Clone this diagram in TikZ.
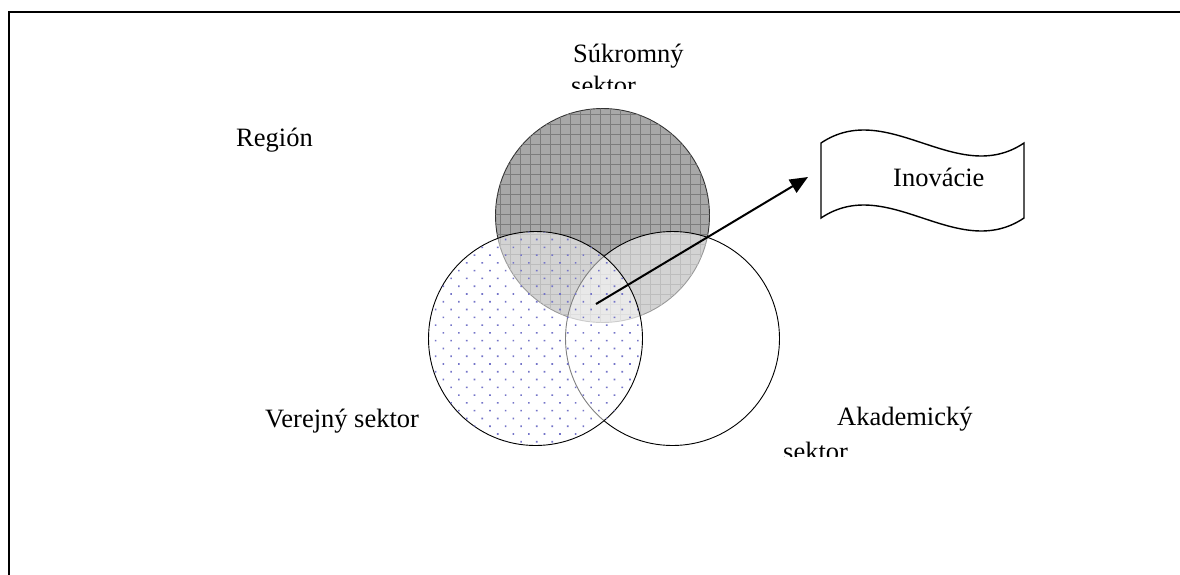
\documentclass[tikz,border=0pt]{standalone}
\usepackage{fontspec}
\setmainfont{Liberation Serif}
\usetikzlibrary{patterns.meta,arrows.meta}

\definecolor{privfill}{HTML}{A8A8A8}
\definecolor{privgrid}{HTML}{7C7C7C}
\definecolor{dotblue}{HTML}{7474C8}

\tikzset{
  sector/.style={circle, inner sep=0pt, minimum size=214pt, line width=0.9pt},
  label/.style={inner sep=0pt, anchor=base west, font=\fontsize{26.5}{32}\selectfont},
  frameline/.style={line width=2pt},
  flow/.style={line width=2pt, -{Triangle[length=18pt, width=15pt]}},
  banner/.style={line width=1.4pt, fill=white},
}

\begin{document}
\begin{tikzpicture}[x=1pt, y=-1pt]
  \useasboundingbox (0,0) rectangle (1180,574);

  % outer frame (top and left edges)
  \draw[frameline] (9,575) -- (9,12) -- (1182,12);

  % private sector: shaded circle with a grid
  \node[sector, draw=black!80, fill=privfill,
        postaction={pattern={Hatch[angle=0, distance=10pt, line width=0.7pt]}, pattern color=privgrid}]
        (priv) at (602.5,215.5) {};

  % academic sector: translucent white disc
  \node[sector, draw=black, fill=white, fill opacity=0.5] (acad) at (672.5,338.5) {};

  % public sector: translucent white disc with blue dots
  \node[sector, draw=black, fill=white, fill opacity=0.5,
        postaction={pattern={Dots[angle=45, distance=11pt, radius=1.15pt]}, pattern color=dotblue, fill opacity=1}]
        (pub) at (535.5,338.5) {};

  % wavy banner
  \coordinate (bTL) at (821,143);
  \coordinate (bTR) at (1024,143);
  \coordinate (bBR) at (1024,218);
  \coordinate (bBL) at (821,218);
  \draw[banner] (bTL) .. controls (888,98) and (957,188) .. (bTR)
        -- (bBR) .. controls (957,263) and (888,173) .. (bBL) -- cycle;
  \node[label] (inov) at (893,186) {Inovácie};

  % arrow from the common overlap to the banner
  \coordinate (core) at (596,304);
  \coordinate (tip) at (808,177);
  \draw[flow] (core) -- (tip);

  % labels
  \node[label] (region) at (236,146) {Región};
  \node[label] (privA) at (573,62) {Súkromný};
  \begin{scope}
    \clip (540,66) rectangle (700,88);
    \node[label] (privB) at (571,94) {sektor};
  \end{scope}
  \node[label] (publab) at (265,427) {Verejný sektor};
  \node[label] (acadA) at (837,425) {Akademický};
  \begin{scope}
    \clip (760,430) rectangle (1000,456);
    \node[label] (acadB) at (783,460) {sektor};
  \end{scope}
\end{tikzpicture}
\end{document}
